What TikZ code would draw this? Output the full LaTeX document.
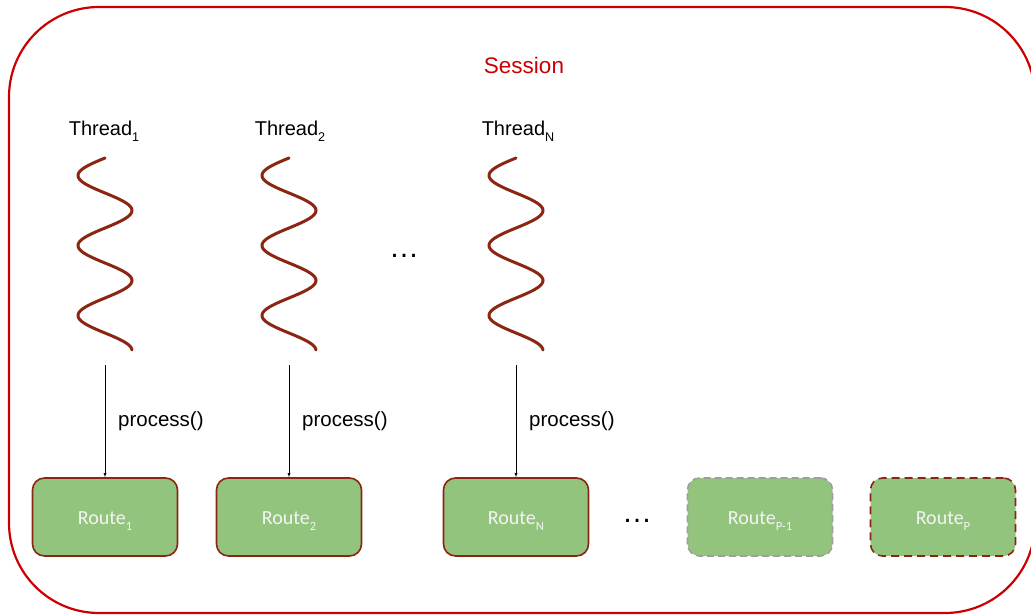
\documentclass[tikz,border=0pt]{standalone}
\usepackage{fontspec}
\setmainfont{Liberation Sans}
\newfontfamily\routefont{Carlito}
\usetikzlibrary{positioning,arrows}

\definecolor{sessionred}{HTML}{CC0000}
\definecolor{routegreen}{HTML}{93C47D}
\definecolor{berry}{HTML}{8B2612}
\definecolor{dashgray}{HTML}{9E9E9E}
\definecolor{routetext}{HTML}{F4F4F4}

\newcommand{\lowsub}[1]{\raisebox{-0.32em}{\scalebox{0.63}{#1}}}

\begin{document}
\begin{tikzpicture}[
  x=1pt, y=-1pt,
  route/.style={rectangle, rounded corners=12pt, fill=routegreen, draw=berry, line width=1.6pt,
    minimum width=145pt, minimum height=78pt, text height=20pt, text depth=6pt,
    text=routetext, font=\routefont\fontsize{20}{24}\selectfont},
  ghost/.style={route, draw=dashgray, dash pattern=on 7pt off 4pt},
  lastroute/.style={route, dash pattern=on 8pt off 5pt},
  thread/.style={font=\fontsize{20}{24}\selectfont, inner sep=0pt},
  call/.style={font=\fontsize{20.5}{24}\selectfont, inner sep=0pt},
  wave/.style={berry, line width=3pt, line cap=round},
  dots/.style={font=\fontsize{30}{30}\selectfont, inner sep=0pt},
  >=latex
]
  \useasboundingbox (0,0) rectangle (1031,615);
  \clip (0,0) rectangle (1031,615);

  % Session
  \draw[sessionred, line width=2.2pt, rounded corners=90pt] (9,7) rectangle (1035,613);
  \node[text=sessionred, font=\fontsize{22.5}{26}\selectfont] (session) at (524,65) {Session};

  % Routes
  \node[route] (R1) at (105,517) {Route\lowsub{1}};
  \node[route] (R2) at (289,517) {Route\lowsub{2}};
  \node[route] (RN) at (516,517) {Route\lowsub{N}};
  \node[ghost] (RP1) at (760,517) {Route\lowsub{P-1}};
  \node[lastroute] (RP) at (943,517) {Route\lowsub{P}};

  % Threads
  \node[thread] (T1) at (104,131) {Thread\lowsub{1}};
  \node[thread] (T2) at (290,131) {Thread\lowsub{2}};
  \node[thread] (TN) at (518,131) {Thread\lowsub{N}};

  \foreach \cx in {105,289,516}
    \draw[wave] plot[domain=0:192, samples=150, smooth]
      ({\cx-27*sin(\x/70*360)}, {158+\x});

  \coordinate (W1) at (105,365);
  \coordinate (W2) at (289,365);
  \coordinate (WN) at (516,365);

  % process() calls
  \draw[->] (W1) -- node[call, right=13pt] {process()} (R1);
  \draw[->] (W2) -- node[call, right=13pt] {process()} (R2);
  \draw[->] (WN) -- node[call, right=13pt] {process()} (RN);

  % Ellipses
  \node[dots] (dotsT) at (404,256) {…};
  \node[dots] (dotsR) at (637,521) {…};

\end{tikzpicture}
\end{document}
